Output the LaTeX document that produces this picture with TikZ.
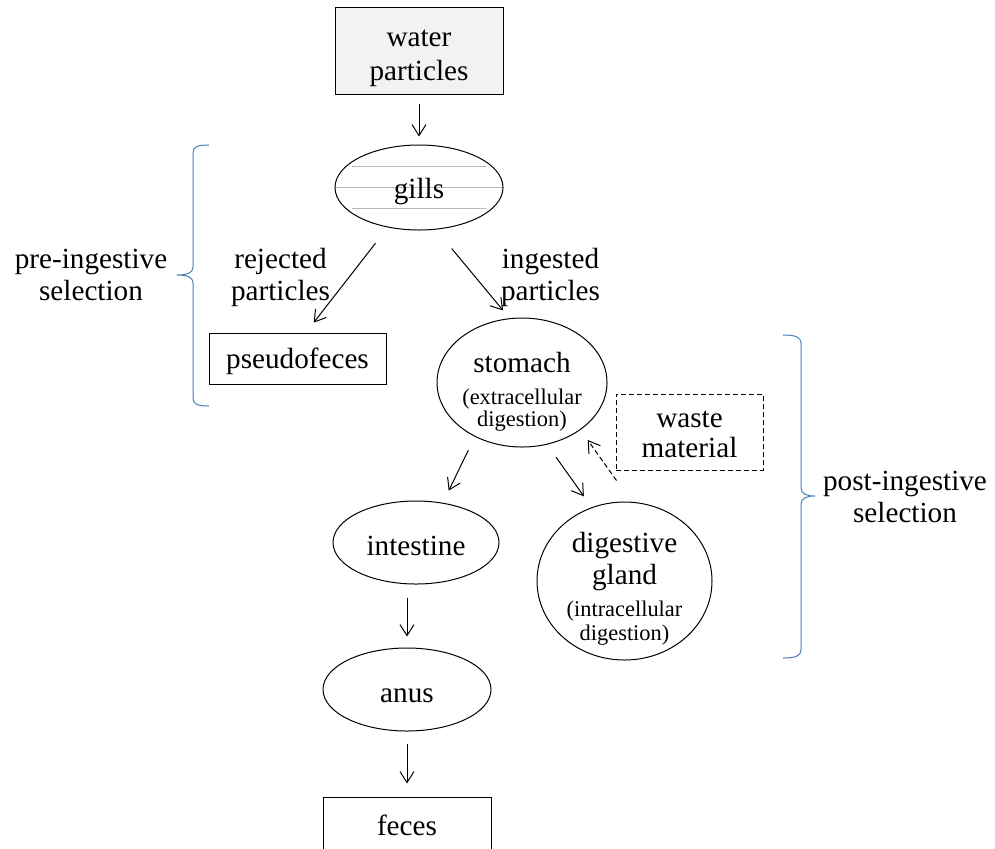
\documentclass[tikz,border=0pt]{standalone}
\usepackage{fontspec}
\setmainfont{Liberation Serif}
\usetikzlibrary{shapes.geometric,arrows.meta}
\newcommand{\bodySize}[0]{\fontsize{14.6}{16}\selectfont}
\newcommand{\noteText}[1]{{\fontsize{11.2}{12}\selectfont #1}}
\newcommand{\topGap}[1]{\rule{0pt}{#1}}
\definecolor{braceBlue}{RGB}{74,126,187}
\definecolor{boxGray}{RGB}{242,242,242}
\definecolor{gillGray}{RGB}{185,185,185}

\begin{document}
\begin{tikzpicture}[x=0.5pt, y=-0.5pt, line width=0.5pt]
  \tikzset{every node/.style={align=center, font=\bodySize, inner sep=0pt},
           box/.style={draw, rectangle},
           oval/.style={draw, ellipse},
           flow/.style={-{Straight Barb[length=5.5pt,width=7pt]}},
           dashes/.style={dash pattern=on 2.5pt off 1.5pt},
           brc/.style={draw=braceBlue}}
  \useasboundingbox (0,0) rectangle (995,848);
  \node[box, fill=boxGray, minimum width=84pt, minimum height=43.5pt] (wp) at (419,50.5)
       {\topGap{16pt}water\\[1pt]particles};
  \node[oval, minimum width=84pt, minimum height=42.5pt,
        path picture={\foreach \dy/\dx in {-21/67, 0/84, 21/67}
          \draw[gillGray] ([shift={(-\dx,\dy)}]path picture bounding box.center)
                       -- ([shift={(\dx,\dy)}]path picture bounding box.center);}] (gl) at (419,187.5)
       {\topGap{14pt}gills};
  \node[box, minimum width=88.5pt, minimum height=25.5pt] (pf) at (297.5,358.5) {\topGap{13pt}pseudofeces};
  \node[oval, inner ysep=-8pt, minimum width=85pt, minimum height=64.5pt] (st) at (522,382.5)
       {\topGap{19.5pt}stomach\\\noteText{(extracellular}\\[-5pt]\noteText{digestion)}};
  \node[box, dashes, minimum width=73.5pt, minimum height=38pt] (wm) at (689.5,432)
       {\topGap{11pt}waste\\[-1pt]material};
  \node[oval, minimum width=83pt, minimum height=41.5pt] (int) at (416,542.5) {\topGap{13.5pt}intestine};
  \node[oval, inner ysep=-8pt, minimum width=87.5pt, minimum height=79pt] (dg) at (624.5,581)
       {\topGap{18pt}digestive\\gland\\\noteText{(intracellular}\\[-4pt]\noteText{digestion)}};
  \node[oval, minimum width=84pt, minimum height=41.5pt] (an) at (407,689.5) {\topGap{13.5pt}anus};
  \node[box, minimum width=84pt, minimum height=27pt] (fe) at (407,824) {\topGap{12pt}feces};

  \node (rej) at (280.5,277) {rejected\\particles};
  \node (ing) at (550.5,277) {ingested\\particles};
  \node (pre) at (91,275) {pre-ingestive\\selection};
  \node (post) at (905,497) {post-ingestive\\selection};

  \draw[flow, shorten <=4.5pt, shorten >=4pt] (wp.south) -- (gl.north);
  \draw[flow, shorten <=10pt, shorten >=6.3pt] (gl.232) -- (pf.72);
  \draw[flow, shorten <=12.3pt, shorten >=5pt] (gl.-68.5) -- (st.101);
  \draw[flow, shorten <=7.5pt, shorten >=6.7pt] (st.229.6) -- (int.56.8);
  \draw[flow, shorten <=7.7pt, shorten >=6.7pt] (st.-68.6) -- (dg.114.8);
  \coordinate (wmfoot) at ([shift={(1,10)}]wm.south west);
  \draw[flow, dashes, shorten >=6.2pt] (wmfoot) -- (st.-39.6);
  \draw[flow, shorten <=6.5pt, shorten >=5.5pt] (an.north |- int.south) -- (an.north);
  \draw[flow, shorten <=6pt, shorten >=6.5pt] (an.south) -- (fe.north);

  \draw[brc] (209,145) .. controls (197,145) and (193,147) .. (193,153) -- (193,267)
             .. controls (193,273) and (187,275) .. (177,275)
             .. controls (187,275) and (193,277) .. (193,283) -- (193,398)
             .. controls (193,404) and (197,406) .. (209,406);
  \draw[brc] (783,335) .. controls (795,335) and (801,337) .. (801,343) -- (801,488)
             .. controls (801,494) and (807,496) .. (815,496)
             .. controls (807,496) and (801,498) .. (801,504) -- (801,650)
             .. controls (801,656) and (795,658) .. (783,658);
\end{tikzpicture}
\end{document}
